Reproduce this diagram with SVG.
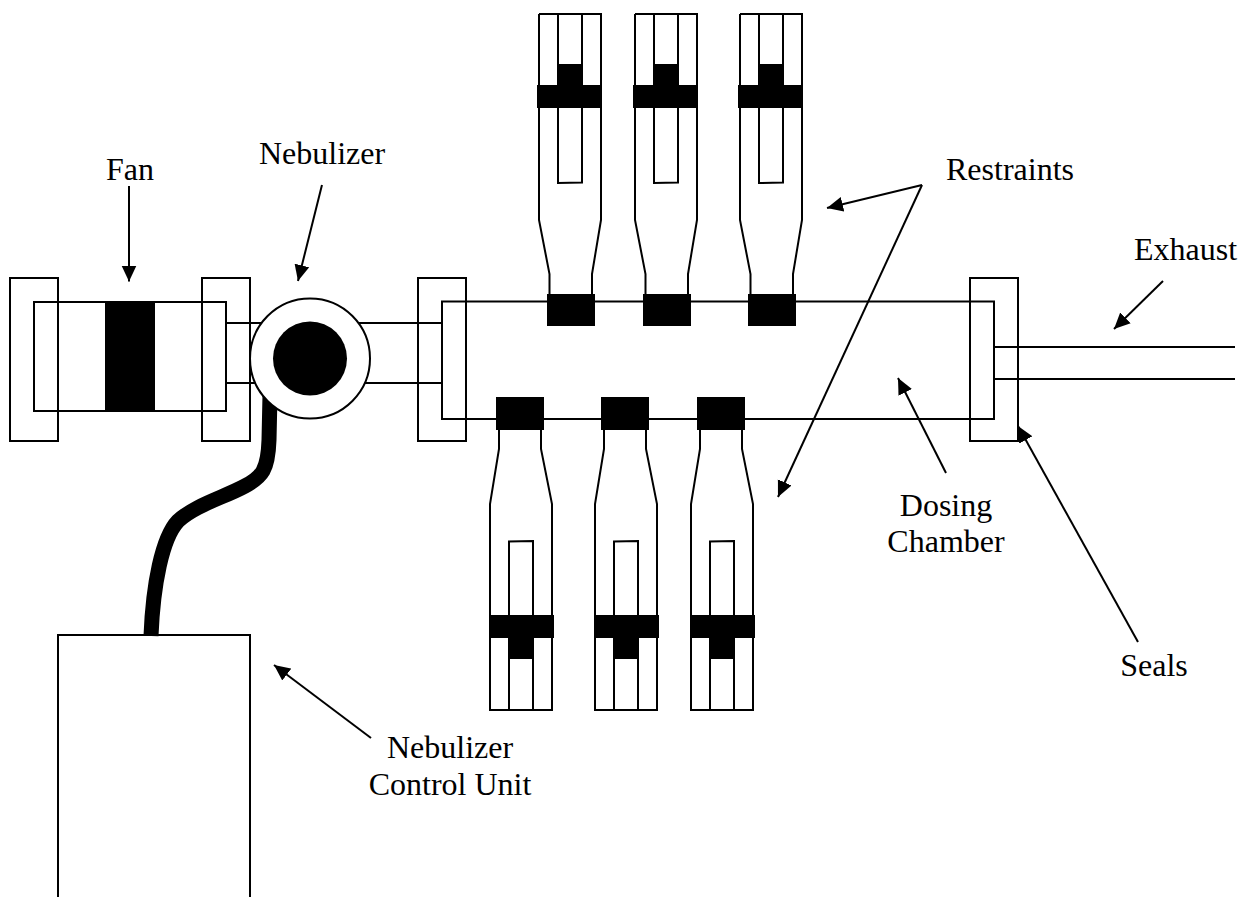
<svg xmlns="http://www.w3.org/2000/svg" width="1243" height="897" viewBox="0 0 1243 897">
<style>
.s{fill:none;stroke:#000;stroke-width:2}
.w{fill:#fff;stroke:#000;stroke-width:2}
.k{fill:#000;stroke:none}
.a{fill:none;stroke:#000;stroke-width:2;marker-end:url(#ah)}
text{font-family:"Liberation Serif","Times New Roman",serif;font-size:32px;fill:#000;text-anchor:middle}
</style>
<defs>
<marker id="ah" markerUnits="userSpaceOnUse" markerWidth="16" markerHeight="16" refX="16" refY="8" orient="auto"><path d="M0,0.500 L16,8 L0,15.500 Z" fill="#000"/></marker>
<g id="rt">
<path class="s" d="M2,14 H64 V220 L55,274 V294 M2,14 V220 L12.500,274 V294"/>
<path class="s" d="M21,14 V183 L45,182.500 V14"/>
<rect class="k" x="0" y="85" width="65" height="23"/>
<rect class="k" x="21" y="64" width="24" height="21"/>
<rect class="k" x="10" y="294" width="48" height="32"/>
</g>
<g id="rb">
<path class="s" d="M9,430 V449 L0,504 V710 H62 V504 L51,449 V430"/>
<path class="s" d="M19,710 V541.500 L43,541 V710"/>
<rect class="k" x="-1" y="615" width="65" height="23"/>
<rect class="k" x="20" y="638" width="24" height="21"/>
<rect class="k" x="6" y="397" width="48" height="33"/>
</g>
</defs>
<g id="chamber"><path class="s" d="M994,347 H1235 M994,379 H1235"/><rect class="s" x="442" y="301.500" width="552" height="117.500"/></g>
<g id="pipes"><path class="s" d="M226,323 H442 M226,383 H442"/></g>
<g id="fan"><rect class="s" x="34" y="302" width="192" height="109"/><rect class="k" x="105" y="302" width="50" height="109"/></g>
<g id="seal-1"><rect class="s" x="10" y="278" width="48" height="163"/></g>
<g id="seal-2"><rect class="s" x="202" y="278" width="48" height="163"/></g>
<g id="seal-3"><rect class="s" x="418" y="278" width="48" height="163"/></g>
<g id="seal-4"><rect class="s" x="970" y="278" width="48" height="163"/></g>
<g id="control-unit"><path class="s" d="M58,897 V635 H250 V897"/></g>
<g id="cable"><path d="M270,395 L269,440 C268,470 262,477 245,486 C225,497 195,505 178,521 C162,538 153,585 151,636" fill="none" stroke="#000" stroke-width="15"/></g>
<g id="nebulizer"><circle class="w" cx="310" cy="358.500" r="60"/><circle class="k" cx="310" cy="358.500" r="37"/></g>
<g id="restraint-t1"><use href="#rt" x="537"/></g>
<g id="restraint-t2"><use href="#rt" x="633"/></g>
<g id="restraint-t3"><use href="#rt" x="738"/></g>
<g id="restraint-b1"><use href="#rb" x="490"/></g>
<g id="restraint-b2"><use href="#rb" x="595"/></g>
<g id="restraint-b3"><use href="#rb" x="691"/></g>
<g id="connectors">
<line class="a" x1="129" y1="186" x2="129" y2="281.500"/>
<line class="a" x1="322" y1="185" x2="298" y2="281"/>
<line class="a" x1="922" y1="185" x2="827" y2="208"/>
<line class="a" x1="922" y1="185" x2="778" y2="497"/>
<line class="a" x1="1163" y1="281" x2="1114" y2="329"/>
<line class="a" x1="946" y1="473" x2="898" y2="378"/>
<line class="a" x1="1138" y1="642" x2="1018" y2="426"/>
<line class="a" x1="371" y1="738" x2="274" y2="665"/>
</g>
<g id="labels">
<text x="130" y="180">Fan</text>
<text x="322" y="164" style="text-anchor:middle">Nebulizer</text>
<text x="1010" y="180">Restraints</text>
<text x="1185.500" y="260">Exhaust</text>
<text x="946" y="516">Dosing</text>
<text x="946" y="552">Chamber</text>
<text x="1154" y="676">Seals</text>
<text x="450" y="758">Nebulizer</text>
<text x="450" y="795">Control Unit</text>
</g>
</svg>
